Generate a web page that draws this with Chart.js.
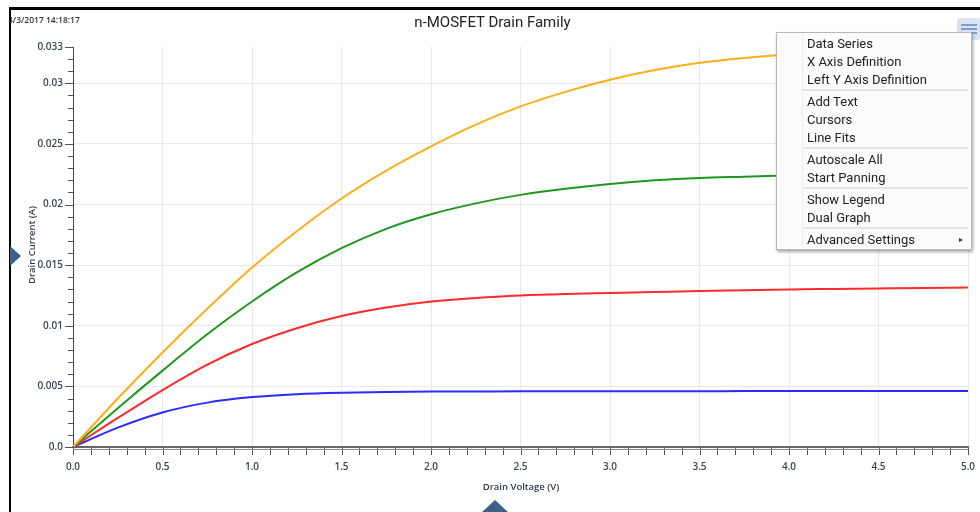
<!DOCTYPE html>
<html><head><meta charset="utf-8">
<script src="https://cdn.jsdelivr.net/npm/chart.js@4/dist/chart.umd.min.js"></script>
<style>
html,body{margin:0;padding:0;background:#fff;width:980px;height:512px;overflow:hidden;position:relative;font-family:Roboto,"Open Sans",sans-serif;}
#wrap{position:absolute;left:0;top:0;width:980px;height:512px;}
canvas{position:absolute;left:0;top:0;}
.abs{position:absolute;}
#topbar{left:9px;top:7px;width:971px;height:3px;background:#000;}
#leftbar{left:9px;top:7px;width:2px;height:505px;background:#000;}
#stamp{left:11px;top:14px;width:90px;height:14px;overflow:hidden;font:600 8.5px "Open Sans",sans-serif;color:#333;white-space:nowrap;}
#stamp span{position:relative;left:-3px;}
#title{left:0;width:985px;top:13px;text-align:center;font:15px Roboto,sans-serif;color:#222;}
#ytitle{left:31px;top:245px;transform:translate(-50%,-50%) rotate(-90deg);font:600 9.5px "Open Sans",sans-serif;color:#2e3b4e;white-space:nowrap;}
#xtitle{left:521px;top:486px;transform:translate(-50%,-50%);font:600 9.5px "Open Sans",sans-serif;color:#2e3b4e;white-space:nowrap;}
#ltri{left:10px;top:246px;width:0;height:0;border-top:10px solid transparent;border-bottom:10px solid transparent;border-left:11px solid #3f5f88;}
#btri{left:481px;top:500px;width:0;height:0;border-left:14px solid transparent;border-right:14px solid transparent;border-bottom:13px solid #3f5f88;}
#ham{left:957px;top:18px;width:23px;height:22px;background:#d9e5f3;border-radius:2px;}
#ham i{position:absolute;left:4px;width:16px;height:2px;background:#7c9dcb;}
#menu{left:776px;top:32px;width:194px;height:216px;background:#fbfbfb;border:1px solid #b8b8b8;box-shadow:1px 2px 3px rgba(0,0,0,0.35);}
#menu .gut{position:absolute;left:25px;top:2px;bottom:2px;width:1px;background:#ececec;}
#menu .it{position:absolute;left:30px;font:13px Roboto,sans-serif;color:#222;white-space:nowrap;transform:translateY(-50%);}
#menu .sep{position:absolute;left:26px;right:3px;height:2px;background:#e4e4e4;}
#menu .arr{position:absolute;left:182px;font:8px sans-serif;color:#333;transform:translateY(-50%);}
</style></head>
<body>
<div id="wrap">
<canvas id="c" width="980" height="512"></canvas>
<div class="abs" id="topbar"></div>
<div class="abs" id="leftbar"></div>
<div class="abs" id="stamp"><span>3/3/2017 14:18:17</span></div>
<div class="abs" id="title">n-MOSFET Drain Family</div>
<div class="abs" id="ytitle">Drain Current (A)</div>
<div class="abs" id="xtitle">Drain Voltage (V)</div>
<div class="abs" id="ltri"></div>
<div class="abs" id="btri"></div>
<div class="abs" id="ham"><i style="top:6px"></i><i style="top:10px"></i><i style="top:14px"></i></div>
<div class="abs" id="menu"></div>
</div>
<script>
// ---- data ----
const drainVoltage = [0,0.25,0.5,0.75,1.0,1.25,1.5,1.75,2.0,2.25,2.5,2.75,3.0,3.25,3.5,3.75,4.0,4.25,4.5,4.75,5.0];
const currentOrange = [0,0.0040,0.0078,0.0114,0.0148,0.0178,0.0205,0.0228,0.0248,0.0266,0.0281,0.0293,0.0303,0.0311,0.0317,0.0321,0.0324,0.0326,0.03275,0.03285,0.0329];
const currentGreen  = [0,0.0032,0.0063,0.0093,0.0120,0.0144,0.0164,0.0180,0.0192,0.0201,0.0208,0.0213,0.0217,0.0220,0.0222,0.0223,0.0224,0.0225,0.02255,0.0226,0.0226];
const currentRed    = [0,0.0024,0.0047,0.0068,0.0085,0.0098,0.0108,0.0115,0.0120,0.0123,0.0125,0.01262,0.0127,0.01278,0.01286,0.01293,0.0130,0.01304,0.01308,0.01312,0.01315];
const currentBlue   = [0,0.0016,0.00285,0.00366,0.00412,0.00436,0.00448,0.00454,0.00457,0.00458,0.00459,0.00459,0.0046,0.0046,0.0046,0.00461,0.00461,0.00462,0.00462,0.00463,0.00463];
const seriesColors = ['#ffae1a','#1f981f','#ff2b2b','#2b2bff'];
const xTickLabels = ['0.0','0.5','1.0','1.5','2.0','2.5','3.0','3.5','4.0','4.5','5.0'];
const yTickLabels = ['0.0','0.005','0.01','0.015','0.02','0.025','0.03','0.033'];
const yTickLabelValues = [0,0.005,0.01,0.015,0.02,0.025,0.03,0.033];
const menuItems = [['Data Series','X Axis Definition','Left Y Axis Definition'],['Add Text','Cursors','Line Fits'],['Autoscale All','Start Panning'],['Show Legend','Dual Graph'],['Advanced Settings']];

// ---- menu ----
(function(){
  const m=document.getElementById('menu');
  let html='<div class="gut"></div>'; let y=10;
  menuItems.forEach((g,gi)=>{
    g.forEach(t=>{ html+=`<div class="it" style="top:${y}px">${t}</div>`; if(t==='Advanced Settings') html+=`<div class="arr" style="top:${y}px">&#9656;</div>`; y+=18;});
    if(gi<menuItems.length-1){ html+=`<div class="sep" style="top:${y-8}px"></div>`; y+=4; }
  });
  m.innerHTML=html;
})();

const xMinorStep = 0.1, yMinorStep = 0.001;
const isXMajor = v => Math.abs(v*2 - Math.round(v*2)) < 1e-6;
const yLabelIndex = v => yTickLabelValues.findIndex(t => Math.abs(t-v) < 1e-7);

const ds = [currentOrange,currentGreen,currentRed,currentBlue].map((arr,i)=>({
  data: drainVoltage.map((x,j)=>({x:x,y:arr[j]})),
  borderColor: seriesColors[i], borderWidth: 2, pointRadius: 0,
  cubicInterpolationMode: 'monotone', fill:false
}));

const tickMarks = {
  id:'tickMarks',
  afterDraw(chart){
    const c=chart.ctx, xs=chart.scales.x, ys=chart.scales.y;
    c.save();
    c.strokeStyle='#555'; c.lineWidth=1;
    xs.ticks.forEach(t=>{
      const px=Math.round(xs.getPixelForValue(t.value))+0.5;
      c.beginPath(); c.moveTo(px, xs.top+1); c.lineTo(px, xs.top+8); c.stroke();
    });
    ys.ticks.forEach(t=>{
      const py=Math.round(ys.getPixelForValue(t.value))+0.5;
      const len = yLabelIndex(t.value)>=0 ? 8 : 5;
      c.beginPath(); c.moveTo(ys.right, py); c.lineTo(ys.right-len, py); c.stroke();
    });
    c.strokeStyle='#8a8a8a'; c.lineWidth=1;
    c.beginPath(); c.moveTo(xs.left, xs.top+2.5); c.lineTo(xs.right, xs.top+2.5); c.stroke();
    c.restore();
  }
};

new Chart(document.getElementById('c'), {
  type:'line',
  data:{datasets: ds},
  plugins:[tickMarks],
  options:{
    responsive:false, animation:false, devicePixelRatio:1,
    layout:{padding:{top:47,right:12,left:0,bottom:0}},
    plugins:{legend:{display:false}, title:{display:false}, tooltip:{enabled:false}},
    scales:{
      x:{type:'linear', min:0, max:5,
        afterBuildTicks: s => { const t=[]; for(let i=0;i<=Math.round(5/xMinorStep);i++) t.push({value: +(i*xMinorStep).toFixed(2)}); s.ticks=t; },
        afterFit: s => { s.height = 65; s.paddingLeft = 0; s.paddingRight = 0; },
        grid:{drawTicks:false, color: c => (c.tick && isXMajor(c.tick.value)) ? '#e9e9e9' : 'rgba(0,0,0,0)', lineWidth:1},
        border:{color:'#666', width:2},
        ticks:{autoSkip:false, maxRotation:0, padding:14, color:'#3a4656', font:{family:'"Open Sans"', size:10, weight:'600'},
          callback: v => isXMajor(v) ? xTickLabels[Math.round(v*2)] : ''}
      },
      y:{type:'linear', min:0, max:0.033,
        afterBuildTicks: s => { const t=[]; for(let i=0;i<=33;i++) t.push({value: +(i*yMinorStep).toFixed(4)}); s.ticks=t; },
        afterFit: s => { s.width = 73; s.paddingTop = 0; s.paddingBottom = 0; },
        grid:{drawTicks:false, color: c => (c.tick && yLabelIndex(c.tick.value)>=0 && c.tick.value<0.033) ? '#e9e9e9' : 'rgba(0,0,0,0)', lineWidth:1},
        border:{color:'#444', width:1},
        ticks:{autoSkip:false, padding:10, color:'#3a4656', font:{family:'"Open Sans"', size:10, weight:'600'},
          callback: v => { const k=yLabelIndex(v); return k>=0 ? yTickLabels[k] : ''; }}
      }
    }
  }
});
</script>
</body></html>
